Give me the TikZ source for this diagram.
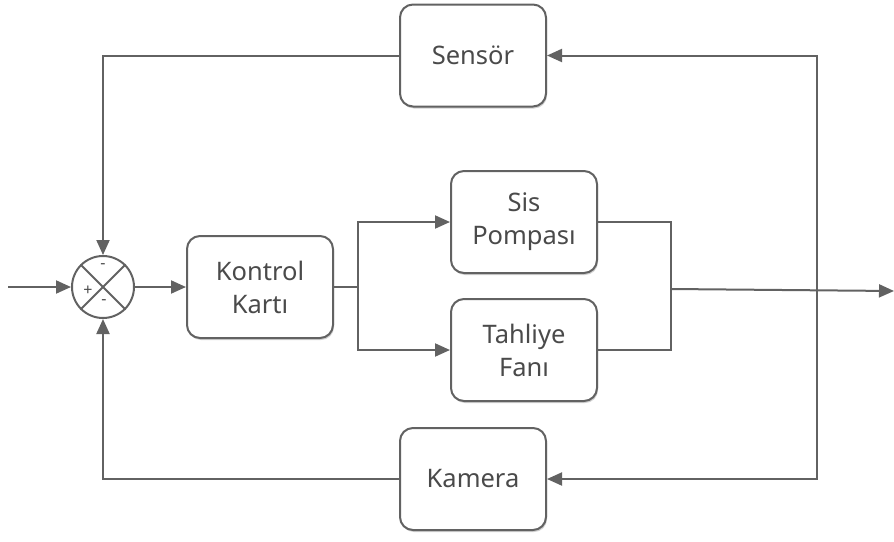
\documentclass[tikz,border=0pt]{standalone}
\usepackage{fontspec}
\setmainfont{Noto Sans}
\usetikzlibrary{arrows.meta,shadows}
\definecolor{ln}{HTML}{626262}
\definecolor{tx}{HTML}{4a4a4a}
\tikzset{
  blk/.style={draw=ln, line width=2pt, fill=white, rounded corners=13pt,
    minimum width=146pt, minimum height=102pt, align=center, text=tx,
    font=\fontsize{25.5}{33}\selectfont,
    drop shadow={shadow xshift=1pt, shadow yshift=-2pt, opacity=0.3, fill=black!60}},
  con/.style={draw=ln, line width=2pt},
  arr/.style={con, -{Triangle[length=15pt,width=13pt]}},
  sgn/.style={text=tx, font=\fontsize{16}{16}\selectfont, inner sep=0pt}
}
\begin{document}
\begin{tikzpicture}[x=1pt,y=-1pt]
\useasboundingbox (0,0) rectangle (894,541);
\node[blk] (sen) at (473,55.5) {Sensör};
\node[blk] (kk) at (260,287) {Kontrol\\Kartı};
\node[blk] (sis) at (524,222) {Sis\\Pompası};
\node[blk] (fan) at (524,350) {Tahliye\\Fanı};
\node[blk] (kam) at (473,479) {Kamera};
\node[circle, draw=ln, line width=2pt, minimum size=62pt, inner sep=0pt] (sum) at (103,287) {};
\draw[con] (sum.north west) -- (sum.south east);
\draw[con] (sum.north east) -- (sum.south west);
\node[sgn] at (103,266) {-};
\node[sgn] at (88,291) {+};
\node[sgn] at (104,302) {-};
\coordinate (in) at (8,287);
\coordinate (out) at (894,291);
\coordinate (sp) at (358,287);
\coordinate (jp) at (671,289);
\coordinate (fb) at (817,289);
\draw[arr] (in) -- (sum.west);
\draw[arr] (sum.east) -- (kk.west);
\draw[con] (kk.east) -- (sp);
\draw[arr] (sp) |- (sis.west);
\draw[arr] (sp) |- (fan.west);
\draw[con] (sis.east) -| (jp);
\draw[con] (fan.east) -| (jp);
\draw[arr] (jp) -- (out);
\draw[arr] (fb) |- (sen.east);
\draw[arr] (fb) |- (kam.east);
\draw[arr] (sen.west) -| (sum.north);
\draw[arr] (kam.west) -| (sum.south);
\end{tikzpicture}
\end{document}
